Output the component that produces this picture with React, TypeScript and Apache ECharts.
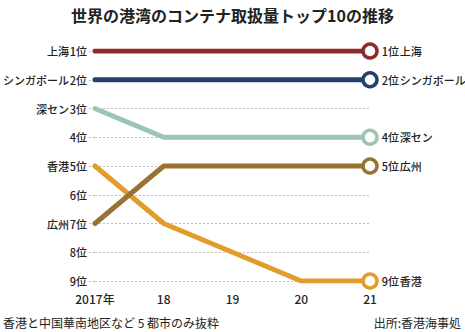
import React, { useEffect, useRef } from "react";
import * as echarts from "echarts";

const years = ["2017年", "18", "19", "20", "21"];
const rankLabels = ["", "上海 1位", "シンガポール 2位", "深セン 3位", "4位", "香港 5位", "6位", "広州 7位", "8位", "9位"];
const seriesNames = ["上海", "シンガポール", "深セン", "広州", "香港"];
const shanghai = [1, 1, 1, 1, 1];
const singapore = [2, 2, 2, 2, 2];
const shenzhen = [3, 4, 4, 4, 4];
const guangzhou = [7, 5, 5, 5, 5];
const hongkong = [5, 7, 8, 9, 9];
const colors = ["#8f2a2c", "#24406f", "#9bc6b1", "#9a7232", "#e29c2c"];
const allData = [shanghai, singapore, shenzhen, guangzhou, hongkong];

const FONT = "Noto Sans CJK JP";

export default function App() {
  const ref = useRef<HTMLDivElement>(null);
  useEffect(() => {
    const chart = echarts.init(ref.current!, null, { renderer: "svg" });
    const series = allData.map((d, si) => ({
      name: seriesNames[si],
      type: "line",
      z: 10 - si,
      lineStyle: { width: 5, color: colors[si], cap: "round", join: "round" },
      itemStyle: { color: "#fff", borderColor: colors[si], borderWidth: 3.5 },
      symbolSize: 14,
      data: d.map((v, i) =>
        i === d.length - 1
          ? {
              value: v,
              symbol: "circle",
              label: {
                show: true,
                position: "right",
                distance: 3,
                formatter: `${v}位\u200a${seriesNames[si]}`,
                color: "#222",
                fontSize: 11,
                fontFamily: FONT,
                fontWeight: 500,
              },
            }
          : { value: v, symbol: "none" }
      ),
    }));
    chart.setOption({
      animation: false,
      title: {
        text: "世界の港湾のコンテナ取扱量トップ10の推移",
        left: "center",
        top: 2,
        textStyle: { fontSize: 16, fontWeight: "bold", color: "#222", fontFamily: FONT },
      },
      grid: { left: 92, right: 95, top: 51, bottom: 51 },
      xAxis: {
        type: "category",
        data: years,
        boundaryGap: false,
        axisLine: { show: false },
        axisTick: { show: false },
        axisLabel: { color: "#222", fontSize: 12, fontFamily: FONT, fontWeight: 500, margin: 11 },
      },
      yAxis: {
        type: "value",
        min: 1,
        max: 9,
        interval: 1,
        inverse: true,
        axisLine: { show: false },
        axisTick: { show: true, length: 6, lineStyle: { color: "#bbb", type: [2, 2] } },
        splitLine: { show: true, lineStyle: { color: "#bbb", type: [2, 2] } },
        axisLabel: {
          margin: 8,
          color: "#222",
          fontSize: 11,
          fontFamily: FONT,
          fontWeight: 500,
          formatter: (v: number) => (rankLabels[v] || "").replace(" ", "\u200a"),
        },
      },
      graphic: [
        {
          type: "text",
          left: 3,
          bottom: 4,
          style: { text: "香港と中国華南地区など 5 都市のみ抜粋", fontSize: 12, fill: "#222", fontFamily: FONT },
        },
        {
          type: "text",
          right: 4,
          bottom: 4,
          style: { text: "出所:香港海事処", fontSize: 12, fill: "#222", fontFamily: FONT },
        },
      ],
      series,
    });
    return () => chart.dispose();
  }, []);
  return (
    <div
      ref={ref}
      style={{ position: "absolute", left: 0, top: 0, width: 465, height: 332 }}
    />
  );
}
